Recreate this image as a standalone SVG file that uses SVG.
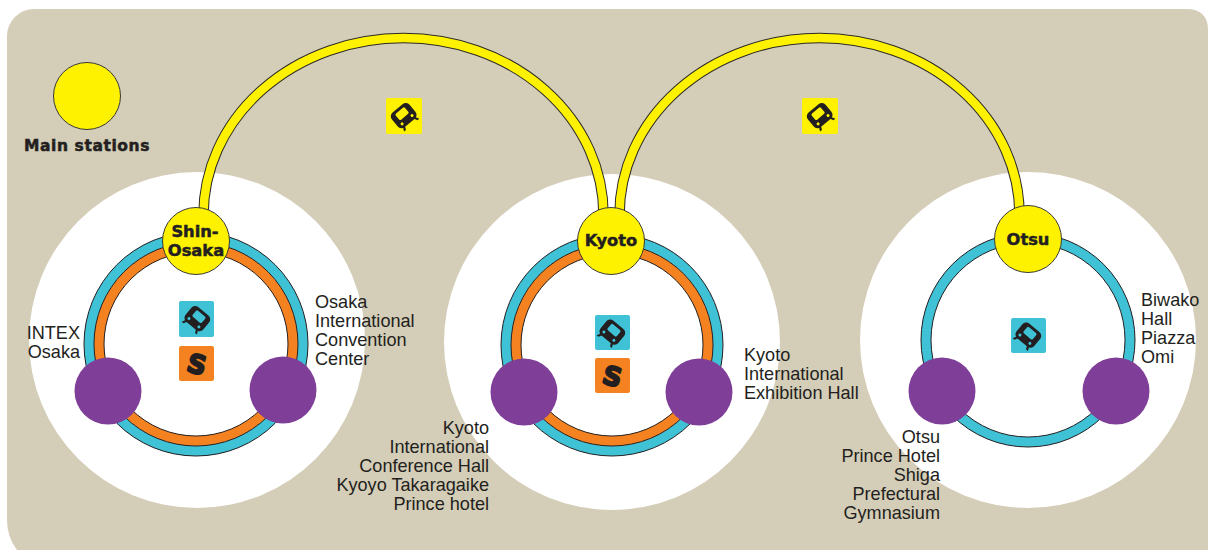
<svg xmlns="http://www.w3.org/2000/svg" width="1208" height="550" viewBox="0 0 1208 550">
<style>
.bg{fill:#d4cdb7}
.zone{fill:#fff}
.teal{fill:none;stroke:#3fc1d6}
.edge{fill:none;stroke:#231f20;stroke-width:1}
.orange{fill:none;stroke:#f58220;stroke-width:10}
.st{fill:#fff200;stroke:#3a3a36;stroke-width:1}
.venue{fill:#7f3f98}
.arcO{fill:none;stroke:#2b2a25;stroke-width:10.500}
.arcI{fill:none;stroke:#fff200;stroke-width:8.500}
.lab{font-family:"Liberation Sans",Arial,sans-serif;font-size:18.100px;fill:#231f20}
.r{text-anchor:end}
.b{font-family:"DejaVu Sans",sans-serif;font-weight:700;font-size:16.300px;fill:#231f20;stroke:#231f20;stroke-width:.5;text-anchor:middle}
.s{font-family:"DejaVu Sans",sans-serif;font-weight:700;font-size:26px;fill:#231f20;stroke:#231f20;stroke-width:2;stroke-linejoin:round;text-anchor:middle}
</style>
<defs>
<g id="train">
<rect x="-11.500" y="-10" width="23" height="19" rx="5" fill="#231f20"/>
<rect x="-6" y="-7" width="12" height="8" rx="1.500" fill="var(--w)"/>
<circle cx="-6.500" cy="4.800" r="1.500" fill="var(--w)"/>
<circle cx="6.500" cy="4.800" r="1.500" fill="var(--w)"/>
<path d="M-8 8l-2 4h2.500l2-4zM8 8l2 4h-2.500l-2-4z" fill="#231f20"/>
</g>
</defs>
<path class="bg" d="M34 9H1186Q1208 9 1208 30V550H17Q7 537 7 520V36A27 27 0 0 1 34 9Z"/>

<g id="zones">
<circle class="zone" cx="197" cy="340" r="168"/>
<circle class="zone" cx="612" cy="342" r="168"/>
<circle class="zone" cx="1028" cy="340" r="168"/>
</g>

<g id="connectors">
<path class="arcO" d="M203.500 215A200 177 0 0 1 603.500 215"/>
<path class="arcO" d="M619.500 215A200 177 0 0 1 1019.500 215"/>
<path class="arcI" d="M203.500 215A200 177 0 0 1 603.500 215"/>
<path class="arcI" d="M619.500 215A200 177 0 0 1 1019.500 215"/>
<g id="ring-shin-osaka">
<circle class="teal" stroke-width="10" cx="196" cy="344" r="107"/>
<circle class="edge" cx="196" cy="344" r="112"/>
<circle class="orange" cx="196" cy="344" r="97"/>
<circle class="edge" cx="196" cy="344" r="102"/>
<circle class="edge" cx="196" cy="344" r="92"/>
</g>
<g id="ring-kyoto">
<circle class="teal" stroke-width="10" cx="612" cy="345" r="106"/>
<circle class="edge" cx="612" cy="345" r="111"/>
<circle class="orange" cx="612" cy="345" r="96"/>
<circle class="edge" cx="612" cy="345" r="101"/>
<circle class="edge" cx="612" cy="345" r="91"/>
</g>
<g id="ring-otsu">
<circle class="teal" stroke-width="10" cx="1028" cy="340" r="102"/>
<circle class="edge" cx="1028" cy="340" r="107"/>
<circle class="edge" cx="1028" cy="340" r="97"/>
</g>
</g>

<g id="legend">
<circle class="st" cx="87" cy="96" r="33.500"/>
<text class="b" x="87" y="151" style="font-size:15.500px" letter-spacing=".6">Main stations</text>
</g>

<g id="shin-osaka"><circle class="st" cx="196" cy="241" r="33.500"/><text class="b" x="195" y="237">Shin-</text><text class="b" x="196" y="256">Osaka</text></g>
<g id="kyoto"><circle class="st" cx="611" cy="241" r="33.500"/><text class="b" x="611" y="246">Kyoto</text></g>
<g id="otsu"><circle class="st" cx="1028" cy="239" r="33.500"/><text class="b" x="1028" y="245">Otsu</text></g>

<g id="intex"><circle class="venue" cx="108" cy="391" r="33.500"/><text class="lab r" x="80" y="339">INTEX</text><text class="lab r" x="80" y="358">Osaka</text></g>
<g id="osaka-icc"><circle class="venue" cx="283" cy="390" r="33.500"/><text class="lab" x="315" y="308">Osaka</text><text class="lab" x="315" y="327">International</text><text class="lab" x="315" y="346">Convention</text><text class="lab" x="315" y="365">Center</text></g>
<g id="kyoto-ich"><circle class="venue" cx="524" cy="392" r="33.500"/><text class="lab r" x="489" y="434">Kyoto</text><text class="lab r" x="489" y="453">International</text><text class="lab r" x="489" y="472">Conference Hall</text><text class="lab r" x="489" y="491">Kyoyo Takaragaike</text><text class="lab r" x="489" y="510">Prince hotel</text></g>
<g id="kyoto-ieh"><circle class="venue" cx="699" cy="392" r="33.500"/><text class="lab" x="744" y="361">Kyoto</text><text class="lab" x="744" y="380">International</text><text class="lab" x="744" y="399">Exhibition Hall</text></g>
<g id="otsu-prince"><circle class="venue" cx="942" cy="391" r="33.500"/><text class="lab r" x="940" y="443">Otsu</text><text class="lab r" x="940" y="462">Prince Hotel</text><text class="lab r" x="940" y="481">Shiga</text><text class="lab r" x="940" y="500">Prefectural</text><text class="lab r" x="940" y="519">Gymnasium</text></g>
<g id="biwako"><circle class="venue" cx="1116" cy="391" r="33.500"/><text class="lab" x="1141" y="306">Biwako</text><text class="lab" x="1141" y="325">Hall</text><text class="lab" x="1141" y="344">Piazza</text><text class="lab" x="1141" y="363">Omi</text></g>

<g id="icons">
<g style="--w:#fff200"><rect x="386" y="98" width="36" height="36" rx="2" fill="#fff200"/><use href="#train" transform="translate(404 116) rotate(-40)"/></g>
<g style="--w:#fff200"><rect x="802" y="98" width="36" height="36" rx="2" fill="#fff200"/><use href="#train" transform="translate(820 116) rotate(-40)"/></g>
<g style="--w:#3fc1d6"><rect x="179" y="301" width="35" height="36" rx="2" fill="#3fc1d6"/><use href="#train" transform="translate(197 319) rotate(40)"/></g>
<rect x="179" y="346" width="35" height="35" rx="2" fill="#f58220"/><text class="s" y="9.500" transform="translate(197 364) rotate(15)">S</text>
<g style="--w:#3fc1d6"><rect x="595" y="315" width="35" height="35" rx="2" fill="#3fc1d6"/><use href="#train" transform="translate(612 332.500) rotate(40)"/></g>
<rect x="595" y="358" width="35" height="35" rx="2" fill="#f58220"/><text class="s" y="9.500" transform="translate(612.500 376) rotate(15)">S</text>
<g style="--w:#3fc1d6"><rect x="1011" y="318" width="35" height="35" rx="2" fill="#3fc1d6"/><use href="#train" transform="translate(1028 335.500) rotate(40)"/></g>
</g>
</svg>
